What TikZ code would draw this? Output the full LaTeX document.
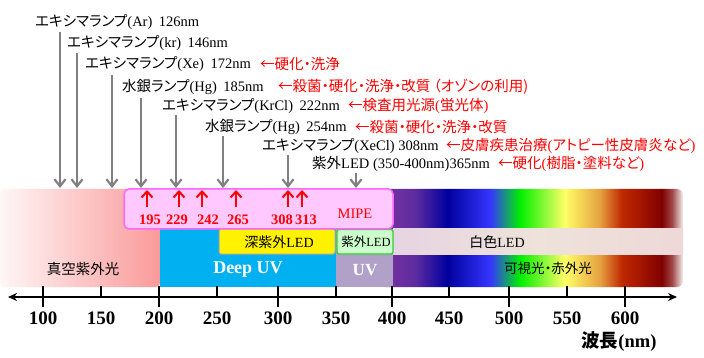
\documentclass[tikz,border=0pt]{standalone}
\usepackage{fontspec}
\setmainfont{Liberation Serif}
\newfontfamily\jp[Scale=1.0,RawFeature=+palt]{Noto Sans CJK JP}
\usetikzlibrary{arrows.meta}
\newcommand\J[1]{{\jp #1}}
\definecolor{vacL}{HTML}{FFF6F6}
\definecolor{vacR}{HTML}{FA9A9A}
\definecolor{deepuv}{HTML}{00B0F0}
\definecolor{uvpurple}{HTML}{B1A0C7}
\definecolor{mipefill}{HTML}{FFC8FF}
\definecolor{mipeline}{HTML}{FF66FF}
\definecolor{ledgreen}{HTML}{CCFFCC}
\definecolor{ledline}{HTML}{33CC33}
\definecolor{arrowgray}{HTML}{808080}
\definecolor{rbA}{HTML}{7030A0}
\definecolor{rbB}{HTML}{5E2CA0}
\definecolor{rbC}{HTML}{00009E}
\definecolor{rbD}{HTML}{3535FF}
\definecolor{rbE}{HTML}{00F000}
\definecolor{rbF}{HTML}{FFFF66}
\definecolor{rbG}{HTML}{E6A040}
\definecolor{rbH}{HTML}{C02800}
\definecolor{rbI}{HTML}{800000}
\definecolor{rbJ}{HTML}{A04848}
\definecolor{rbK}{HTML}{F8F0F0}
\definecolor{wbL}{HTML}{E6D4E2}
\definecolor{wbM}{HTML}{EEE2DA}
\definecolor{wbR}{HTML}{EED8D8}
\pgfdeclarehorizontalshading{rainbow}{100bp}{color(0bp)=(rbA); color(27.1bp)=(rbA); color(30.8bp)=(rbB); color(36.1bp)=(rbC); color(43.2bp)=(rbD); color(48.1bp)=(rbE); color(55.5bp)=(rbF); color(61.3bp)=(rbG); color(64.9bp)=(rbH); color(71.5bp)=(rbI); color(73.2bp)=(rbJ); color(75bp)=(rbK); color(100bp)=(rbK)}
\begin{document}
\begin{tikzpicture}[x=1pt,y=-1pt,
  lbl/.style={anchor=west, inner sep=0pt, font=\fontsize{14.5}{16}\selectfont},
  rlbl/.style={lbl, text=red},
  garrow/.style={draw=arrowgray, line width=2.2pt, -{Straight Barb[length=7pt,width=11pt]}},
  rarrow/.style={draw=red, line width=2pt, -{Straight Barb[length=6pt,width=11pt]}},
  num/.style={text=red, inner sep=0pt, font=\bfseries\fontsize{14.5}{15}\selectfont},
  ticklab/.style={inner sep=0pt, font=\bfseries\fontsize{19}{20}\selectfont},
  axisline/.style={line width=1.8pt, {Stealth[length=9pt,width=8pt]}-{Stealth[length=9pt,width=8pt]}},
  tickmark/.style={line width=1.8pt}
]
\useasboundingbox (0,0) rectangle (704,358);
% bands
\shade[left color=vacL, right color=vacR, rounded corners=4] (0,189) rectangle (160,287);
\shade[shading=rainbow, rounded corners=6] (380,189) rectangle (683,287);
\fill[deepuv] (160,229) rectangle (336,287);
\fill[uvpurple] (336,229) rectangle (393,287);
\shade[left color=wbL, right color=wbR, middle color=wbM] (393,229) rectangle (683,254);
\draw[fill=yellow, draw=gray!70, line width=1pt, rounded corners=2] (219,229) rectangle (335,254);
\draw[fill=ledgreen, draw=ledline, line width=1.3pt, rounded corners=2] (337,229.5) rectangle (393,254);
\draw[fill=mipefill, draw=mipeline, line width=1.5pt, rounded corners=5] (124,189) rectangle (393,229);
% band texts
\node[inner sep=0pt, font=\fontsize{14.5}{15}\selectfont] (vac) at (83,269) {\J{真空紫外光}};
\node[inner sep=0pt, text=white, font=\bfseries\fontsize{18}{20}\selectfont] (duv) at (248,270) {Deep UV};
\node[inner sep=0pt, text=white, font=\bfseries\fontsize{17}{20}\selectfont] (uv) at (365,270) {UV};
\node[inner sep=0pt, font=\fontsize{14}{15}\selectfont] (dled) at (279,242) {\J{深紫外}LED};
\node[inner sep=0pt, font=\fontsize{12.5}{14}\selectfont] (uled) at (366,242) {\J{紫外}LED};
\node[inner sep=0pt, font=\fontsize{14}{15}\selectfont] (wled) at (497,242) {\J{白色}LED};
\node[inner sep=0pt, font=\fontsize{13.5}{15}\selectfont] (vis) at (548,268) {\J{可視光・赤外光}};
\node[inner sep=0pt, text=red, font=\fontsize{14.5}{15}\selectfont] (mipe) at (355,214) {MIPE};
% lamp labels
\node[lbl] (l1) at (35,22) {\J{エキシマランプ}(Ar)\hspace{.45em}126nm};
\node[lbl] (l2) at (67,43) {\J{エキシマランプ}(kr)\hspace{.45em}146nm};
\node[lbl] (l3) at (85,64) {\J{エキシマランプ}(Xe)\hspace{.45em}172nm};
\node[rlbl] (r3) at (260,64) {\J{←硬化・洗浄}};
\node[lbl] (l4) at (122,87) {\J{水銀ランプ}(Hg)\hspace{.45em}185nm};
\node[rlbl] (r4) at (278,87) {\J{←殺菌・硬化・洗浄・改質 （オゾンの利用)}};
\node[lbl] (l5) at (162,106) {\J{エキシマランプ}(KrCl)\hspace{.45em}222nm};
\node[rlbl] (r5) at (348,106) {\J{←検査用光源}(\J{蛍光体})};
\node[lbl] (l6) at (205,127) {\J{水銀ランプ}(Hg)\hspace{.45em}254nm};
\node[rlbl] (r6) at (355,127) {\J{←殺菌・硬化・洗浄・改質}};
\node[lbl] (l7) at (262,146) {\J{エキシマランプ}(XeCl) 308nm};
\node[rlbl] (r7) at (446,146) {\J{←皮膚疾患治療}(\J{アトピー性皮膚炎など})};
\node[lbl] (l8) at (312,164) {\J{紫外}LED (350-400nm)365nm};
\node[rlbl] (r8) at (498,164) {\J{←硬化}(\J{樹脂・塗料など})};
% gray arrows
\foreach \n/\x/\y in {1/60/32, 2/77/53, 3/112/75, 4/141/98, 5/176/115, 6/223/136, 7/288/155, 8/356/173}{
  \coordinate (gs\n) at (\x,\y);
  \coordinate (ge\n) at (\x,188);
  \draw[garrow] (gs\n) -- (ge\n);
}
% red arrows and numbers
\foreach \n/\x/\lx in {195/147/150, 229/179/177, 242/202/208, 265/236/238, 308/288/282, 313/302/306}{
  \coordinate (rs\n) at (\x,207);
  \coordinate (re\n) at (\x,190);
  \draw[rarrow] (rs\n) -- (re\n);
  \node[num] (n\n) at (\lx,220) {\n};
}
% axis
\coordinate (axl) at (8,297);
\coordinate (axr) at (677,297);
\draw[axisline] (axl) -- (axr);
\foreach \v/\x in {100/43, 200/159, 300/278, 400/392, 500/509, 600/625}{
  \coordinate (ta\v) at (\x,286);
  \coordinate (tb\v) at (\x,307);
  \draw[tickmark] (ta\v) -- (tb\v);
  \node[ticklab] (t\v) at (\x,318) {\v};
}
\foreach \v/\x in {150/101, 250/217, 350/336, 450/449, 550/567}{
  \coordinate (ta\v) at (\x,286);
  \coordinate (tb\v) at (\x,298);
  \draw[tickmark] (ta\v) -- (tb\v);
  \node[ticklab] (t\v) at (\x,318) {\v};
}
\node[inner sep=0pt, font=\bfseries\fontsize{18.5}{20}\selectfont] (wl) at (619,342) {\J{\bfseries 波長}(nm)};
\end{tikzpicture}
\end{document}
